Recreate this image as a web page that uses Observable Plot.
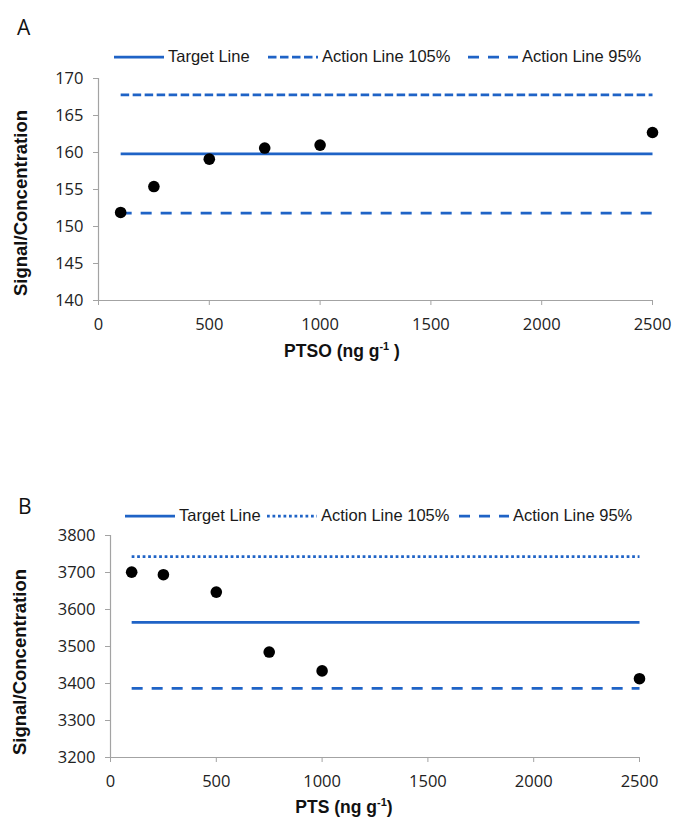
<!DOCTYPE html>
<html><head><meta charset="utf-8">
<script src="https://cdn.jsdelivr.net/npm/d3@7"></script>
<script src="https://cdn.jsdelivr.net/npm/@observablehq/plot@0.6"></script>
<style>
body{margin:0;background:#fff;}
#root{position:relative;width:673px;height:823px;overflow:hidden;font-family:"Liberation Sans",Arial,sans-serif;background:#fff;}
.panel{position:absolute;left:0;}
.letter{position:absolute;font-family:"Open Sans",sans-serif;font-size:21px;color:#111;line-height:1;}
.leg{position:absolute;font-size:16.5px;color:#1a1a1a;line-height:1;white-space:nowrap;}
.ytitle{position:absolute;font-weight:bold;font-size:18.5px;color:#111;white-space:nowrap;transform:translate(-50%,-50%) rotate(-90deg);line-height:1;}
.xtitle{position:absolute;font-weight:bold;font-size:17.5px;color:#111;white-space:nowrap;transform:translate(-50%,-50%);line-height:1;}
.xtitle sup{font-size:11px;vertical-align:7px;line-height:0;}
</style></head><body><div id="root"></div>
<script>
// ---- data ----
const lineNames = ["Target Line", "Action Line 105%", "Action Line 95%"];
const lineX = [100, 2500];
const xTicks = [0, 500, 1000, 1500, 2000, 2500];

const concA = [100, 250, 500, 750, 1000, 2500];
const ratioA = [151.9, 155.4, 159.1, 160.6, 161.0, 162.7];
const levelsA = [159.8, 167.8, 151.8];
const yTicksA = [140, 145, 150, 155, 160, 165, 170];

const concB = [100, 250, 500, 750, 1000, 2500];
const ratioB = [3701, 3694, 3647, 3485, 3434, 3413];
const levelsB = [3565, 3743, 3387];
const yTicksB = [3200, 3300, 3400, 3500, 3600, 3700, 3800];

// ---- styles ----
const BLUE = "#1f63c6";
const AXIS = "#a3a3a3";
const dashesA = [null, "8.5,3.5", "11,9"];
const dashesB = [null, "2.75,2.75", "11,9"];

const root = document.getElementById("root");
const fmt = d => String(d);

function panel(o) {
  const marks = [
    Plot.ruleX([0], {stroke: AXIS, strokeWidth: 1.2}),
    Plot.ruleY([o.yTicks[0]], {stroke: AXIS, strokeWidth: 1.2}),
    Plot.axisY(o.yTicks, {anchor: "left", tickSize: 5, tickPadding: 10, stroke: AXIS, fill: "#222", label: null, tickFormat: fmt}),
    Plot.axisX(xTicks, {anchor: "bottom", tickSize: 5, tickPadding: 13, stroke: AXIS, fill: "#222", label: null, tickFormat: fmt}),
  ];
  o.levels.forEach((v, i) => {
    marks.push(Plot.line(lineX.map(x => ({x, y: v})), {
      x: "x", y: "y", stroke: BLUE, strokeWidth: 2.75,
      strokeDasharray: o.dashes[i] || undefined, strokeLinecap: "butt"
    }));
  });
  marks.push(Plot.dot(o.conc.map((c, i) => ({c, v: o.ratio[i]})), {x: "c", y: "v", r: 5.8, fill: "#000", stroke: "none"}));
  const svg = Plot.plot({
    width: 673, height: o.height,
    marginLeft: o.ml, marginRight: o.mr, marginTop: o.mt, marginBottom: 32,
    x: {domain: [0, 2500]},
    y: {domain: [o.yTicks[0], o.yTicks[o.yTicks.length - 1]]},
    style: {fontFamily: "'Open Sans', sans-serif", fontSize: "16.5px", background: "transparent", overflow: "visible"},
    marks
  });
  svg.classList.add("panel");
  svg.style.top = o.top + "px";
  root.appendChild(svg);
}

function legend(dashes, starts, top) {
  lineNames.forEach((n, i) => {
    const s = document.createElementNS("http://www.w3.org/2000/svg", "svg");
    s.setAttribute("width", 50); s.setAttribute("height", 6);
    s.style.position = "absolute"; s.style.left = starts[i] + "px"; s.style.top = (top - 3) + "px";
    const l = document.createElementNS("http://www.w3.org/2000/svg", "line");
    l.setAttribute("x1", 0); l.setAttribute("x2", 50); l.setAttribute("y1", 3); l.setAttribute("y2", 3);
    l.setAttribute("stroke", BLUE); l.setAttribute("stroke-width", 2.75);
    if (dashes[i]) l.setAttribute("stroke-dasharray", dashes[i]);
    s.appendChild(l); root.appendChild(s);
    const t = document.createElement("div");
    t.className = "leg"; t.textContent = n;
    t.style.left = (starts[i] + 54) + "px"; t.style.top = (top - 9) + "px";
    root.appendChild(t);
  });
}

function addDiv(cls, html, x, y) {
  const d = document.createElement("div");
  d.className = cls; d.innerHTML = html;
  d.style.left = x + "px"; d.style.top = y + "px";
  root.appendChild(d);
}

// Panel A
panel({conc: concA, ratio: ratioA, levels: levelsA, dashes: dashesA, yTicks: yTicksA,
       top: 0, height: 332, mt: 78, ml: 98, mr: 21});
legend(dashesA, [114, 268, 468], 57);
addDiv("letter", "A", 17, 17);
addDiv("ytitle", "Signal/Concentration", 21, 203);
addDiv("xtitle", "PTSO (ng g<sup>-1</sup> )", 342, 352);

// Panel B
panel({conc: concB, ratio: ratioB, levels: levelsB, dashes: dashesB, yTicks: yTicksB,
       top: 460, height: 329, mt: 75, ml: 110, mr: 34});
legend(dashesB, [125, 267, 459], 516);
addDiv("letter", "B", 18, 496);
addDiv("ytitle", "Signal/Concentration", 20, 662);
addDiv("xtitle", "PTS (ng g<sup>-1</sup>)", 344, 808);
</script></body></html>
